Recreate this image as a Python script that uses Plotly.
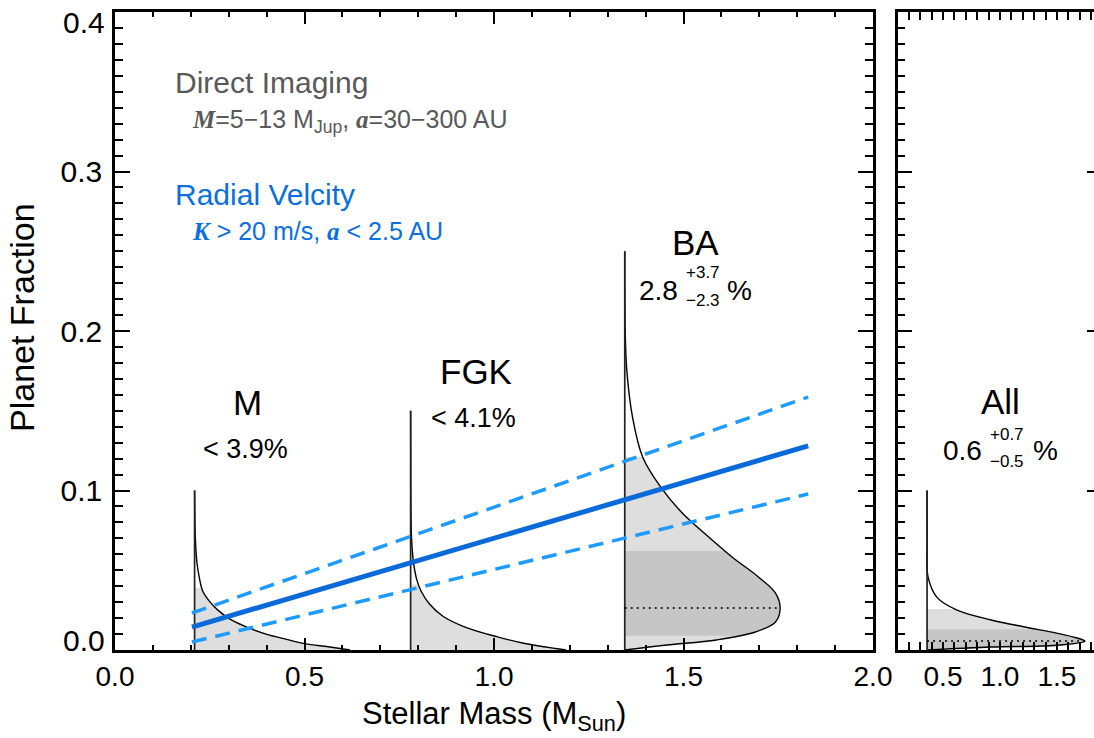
import plotly.graph_objects as go

# ---------------- data ----------------
# posterior planet-fraction distributions: fraction values and relative density (peak = 1)
m_frac = [0.0, 0.002, 0.004, 0.007, 0.010, 0.015, 0.0195, 0.025, 0.030, 0.037, 0.045, 0.055, 0.070, 0.100]
m_dens = [1.0, 0.86, 0.71, 0.58, 0.46, 0.32, 0.225, 0.15, 0.10, 0.052, 0.031, 0.015, 0.005, 0.0]

fgk_frac = [0.0, 0.002, 0.0044, 0.0082, 0.0144, 0.021, 0.029, 0.037, 0.044, 0.0545, 0.070, 0.100, 0.150]
fgk_dens = [1.0, 0.86, 0.72, 0.56, 0.35, 0.21, 0.12, 0.067, 0.040, 0.019, 0.006, 0.001, 0.0]

ba_frac = [0.0, 0.0031, 0.0063, 0.0113, 0.0176, 0.0263, 0.0357, 0.0458, 0.0583, 0.0708, 0.0859,
           0.1016, 0.121, 0.146, 0.1755, 0.200, 0.250]
ba_dens = [0.0, 0.27, 0.59, 0.84, 0.97, 1.0, 0.97, 0.86, 0.69, 0.54, 0.37, 0.235, 0.115, 0.05, 0.013, 0.003, 0.0]

all_frac = [0.0, 0.0019, 0.003, 0.0056, 0.0075, 0.0106, 0.0146, 0.019, 0.025, 0.033, 0.046, 0.070, 0.100]
all_dens = [0.0, 0.40, 0.82, 1.0, 0.95, 0.82, 0.61, 0.40, 0.19, 0.063, 0.006, 0.001, 0.0]

groups = ["M", "FGK", "BA"]
group_mass = [0.21, 0.78, 1.345]          # stellar mass where each distribution is anchored
group_top = [0.10, 0.15, 0.25]            # top of the vertical baseline
group_band95 = [(0.0, 0.039), (0.0, 0.041), (0.0, 0.121)]
group_band68 = [None, None, (0.009, 0.062)]
group_mode = [False, False, True]

all_mass = 0.36
all_top = 0.10
all_band95 = (0.0, 0.0257)
all_band68 = (0.001, 0.013)

# radial-velocity relation (planet fraction vs stellar mass)
rv_mass = [0.203, 1.829]
rv_best = [0.0144, 0.128]
rv_high = [0.0232, 0.1586]
rv_low = [0.005, 0.0978]

x_ticks = [0.0, 0.5, 1.0, 1.5, 2.0]
x_ticklabels = ["0.0", "0.5", "1.0", "1.5", "2.0"]
x2_ticks = [0.5, 1.0, 1.5]
x2_ticklabels = ["0.5", "1.0", "1.5"]
y_ticks = [0.0, 0.1, 0.2, 0.3, 0.4]
y_ticklabels = ["0.0", "0.1", "0.2", "0.3", "0.4"]

# ---------------- style ----------------
W_FIG, H_FIG = 1094, 738
FONT = "Liberation Sans, Arial, Helvetica, sans-serif"
SERIF = "Liberation Serif"
LIGHT = "#dedede"
DARK = "#c6c6c6"
BLUE = "#0a6ad9"
BLUE_D = "#1e9bff"
GREY_TXT = "#595959"
BLUE_TXT = "#0b6fe0"

MAIN_W = 0.41      # peak width of a distribution in main-panel units
ALL_W = 1.386      # peak width in right-panel units


def pfx(x):
    return x / W_FIG


def pfy(y):
    return 1 - y / H_FIG


fig = go.Figure()


def add_dist(frac, dens, base, top, width, band95, band68, show_mode, xa, ya):
    edge_band = base + 1.01 * width
    edge_mask = base + 1.06 * width
    for band, col in ((band95, LIGHT), (band68, DARK)):
        if band is None:
            continue
        lo, hi = band
        fig.add_trace(go.Scatter(x=[base, edge_band, edge_band, base, base], y=[lo, lo, hi, hi, lo],
                                 mode="lines", fill="toself", fillcolor=col, line=dict(width=0),
                                 xaxis=xa, yaxis=ya, hoverinfo="skip", showlegend=False))
    # invisible right edge for the white mask outside the curve
    fig.add_trace(go.Scatter(x=[edge_mask, edge_mask], y=[0, top], mode="lines",
                             line=dict(width=0, color="white"), xaxis=xa, yaxis=ya,
                             hoverinfo="skip", showlegend=False))
    xs = [base + d * width for d in dens]
    fig.add_trace(go.Scatter(x=xs, y=frac, mode="lines", fill="tonextx", fillcolor="white",
                             line=dict(color="black", width=1.4, shape="spline"),
                             xaxis=xa, yaxis=ya, hoverinfo="skip", showlegend=False))
    # vertical baseline
    fig.add_trace(go.Scatter(x=[base, base], y=[0, top], mode="lines",
                             line=dict(color="#222222", width=1.7), xaxis=xa, yaxis=ya,
                             hoverinfo="skip", showlegend=False))
    if show_mode:
        k = dens.index(max(dens))
        fig.add_trace(go.Scatter(x=[base, base + dens[k] * width], y=[frac[k], frac[k]], mode="lines",
                                 line=dict(color="black", width=1.6, dash="2px,4px"),
                                 xaxis=xa, yaxis=ya, hoverinfo="skip", showlegend=False))


dists = [(m_frac, m_dens), (fgk_frac, fgk_dens), (ba_frac, ba_dens)]
for (fr, de), base, top, b95, b68, sm in zip(dists, group_mass, group_top, group_band95, group_band68, group_mode):
    add_dist(fr, de, base, top, MAIN_W, b95, b68, sm, "x", "y")

add_dist(all_frac, all_dens, all_mass, all_top, ALL_W, all_band95, all_band68, True, "x2", "y2")

# radial-velocity lines
fig.add_trace(go.Scatter(x=rv_mass, y=rv_high, mode="lines", line=dict(color=BLUE_D, width=3.5, dash="15px,9px"),
                         hoverinfo="skip", showlegend=False))
fig.add_trace(go.Scatter(x=rv_mass, y=rv_low, mode="lines", line=dict(color=BLUE_D, width=3.5, dash="15px,9px"),
                         hoverinfo="skip", showlegend=False))
fig.add_trace(go.Scatter(x=rv_mass, y=rv_best, mode="lines", line=dict(color=BLUE, width=5),
                         hoverinfo="skip", showlegend=False))

# empty trace so that the right-hand tick axis of the second panel is drawn
fig.add_trace(go.Scatter(x=[], y=[], xaxis="x2", yaxis="y3", hoverinfo="skip", showlegend=False))

# ---------------- annotations ----------------
ann = []


def text(x, y, s, size, color="black", xanchor="center", angle=0):
    ann.append(dict(x=pfx(x), y=pfy(y), xref="paper", yref="paper", text=s, showarrow=False,
                    xanchor=xanchor, yanchor="middle", textangle=angle,
                    font=dict(family=FONT, size=size, color=color)))


def bi(s):
    return "<span style=\"font-family:'%s'\"><b><i>%s</i></b></span>" % (SERIF, s)


text(173, 82, "Direct Imaging", 30, GREY_TXT, "left")
text(190, 121, bi("M") + "=5\u221213 M<sub>Jup</sub>, " + bi("a") + "=30\u2212300 AU", 25, GREY_TXT, "left")
text(173, 195, "Radial Velcity", 30, BLUE_TXT, "left")
text(190, 231, bi("K") + " &gt; 20 m/s, " + bi("a") + " &lt; 2.5 AU", 25, BLUE_TXT, "left")

text(247, 402, groups[0], 35)
text(246, 449, "&lt; 3.9%", 27)
text(476, 371, groups[1], 35)
text(473, 418, "&lt; 4.1%", 27)
text(695, 242, groups[2], 35)
text(680, 290, "2.8", 28, xanchor="right")
text(684, 273, "+3.7", 17, xanchor="left")
text(684, 300, "\u22122.3", 17, xanchor="left")
text(725, 290, "%", 28, xanchor="left")

text(1000, 401, "All", 35)
text(984, 450, "0.6", 28, xanchor="right")
text(988, 434, "+0.7", 17, xanchor="left")
text(988, 461, "\u22120.5", 17, xanchor="left")
text(1031, 450, "%", 28, xanchor="left")

# end labels of the y axis sit inside the figure, as in the reference
text(107, 22, y_ticklabels[-1], 30, xanchor="right")
text(107, 640, y_ticklabels[0], 30, xanchor="right")

text(22, 318, "Planet Fraction", 34, angle=-90)
text(494, 716, "Stellar Mass (M<sub>Sun</sub>)", 31)

# ---------------- layout ----------------
x_dom = [pfx(115), pfx(873)]
x2_dom = [pfx(898), 1.0]
y_dom = [1 - 650 / H_FIG, 1 - 12 / H_FIG]

common = dict(showgrid=False, zeroline=False, showline=True, linecolor="black", linewidth=2.5,
              ticks="inside", tickcolor="black", tickwidth=2, automargin=False,
              tickfont=dict(family=FONT, size=30, color="black"))
xfont = dict(family=FONT, size=28, color="black")

fig.update_layout(
    width=W_FIG, height=H_FIG,
    margin=dict(l=0, r=0, t=0, b=0, autoexpand=False),
    paper_bgcolor="white", plot_bgcolor="white",
    showlegend=False,
    annotations=ann,
    xaxis=dict(domain=x_dom, range=[0, 2], tickvals=x_ticks, ticktext=x_ticklabels, ticklen=12,
               mirror="allticks", anchor="y", ticklabelstandoff=0,
               minor=dict(dtick=0.1, tick0=0, ticks="inside", ticklen=5, tickwidth=1.5, tickcolor="black"),
               **{**common, "tickfont": xfont}),
    yaxis=dict(domain=y_dom, range=[0, 0.4], tickvals=y_ticks[1:-1], ticktext=y_ticklabels[1:-1], ticklen=15,
               mirror="allticks", anchor="x", ticklabelstandoff=4,
               minor=dict(dtick=0.01, tick0=0, ticks="inside", ticklen=8, tickwidth=1.5, tickcolor="black"),
               **common),
    xaxis2=dict(domain=x2_dom, range=[0.105, 1.825], tickvals=x2_ticks, ticktext=x2_ticklabels, ticklen=8,
                mirror="allticks", anchor="y2", ticklabelstandoff=0,
                minor=dict(dtick=0.1, tick0=0, ticks="inside", ticklen=4, tickwidth=1.5, tickcolor="black"),
                **{**common, "tickfont": xfont}),
    yaxis2=dict(domain=y_dom, range=[0, 0.4], tickvals=y_ticks, showticklabels=False, ticklen=14,
                mirror=False, anchor="x2",
                minor=dict(dtick=0.01, tick0=0, ticks="inside", ticklen=7, tickwidth=1.5, tickcolor="black"),
                **common),
    yaxis3=dict(overlaying="y2", side="right", anchor="x2", range=[0, 0.4], tickvals=y_ticks[1:-1],
                showticklabels=False, showline=False, showgrid=False, zeroline=False,
                ticks="inside", ticklen=7, tickwidth=2, tickcolor="black", automargin=False,
                minor=dict(ticks="")),
)

fig.write_html("out.html", post_script="document.body.style.margin='0px';",
               config={"displayModeBar": False})
